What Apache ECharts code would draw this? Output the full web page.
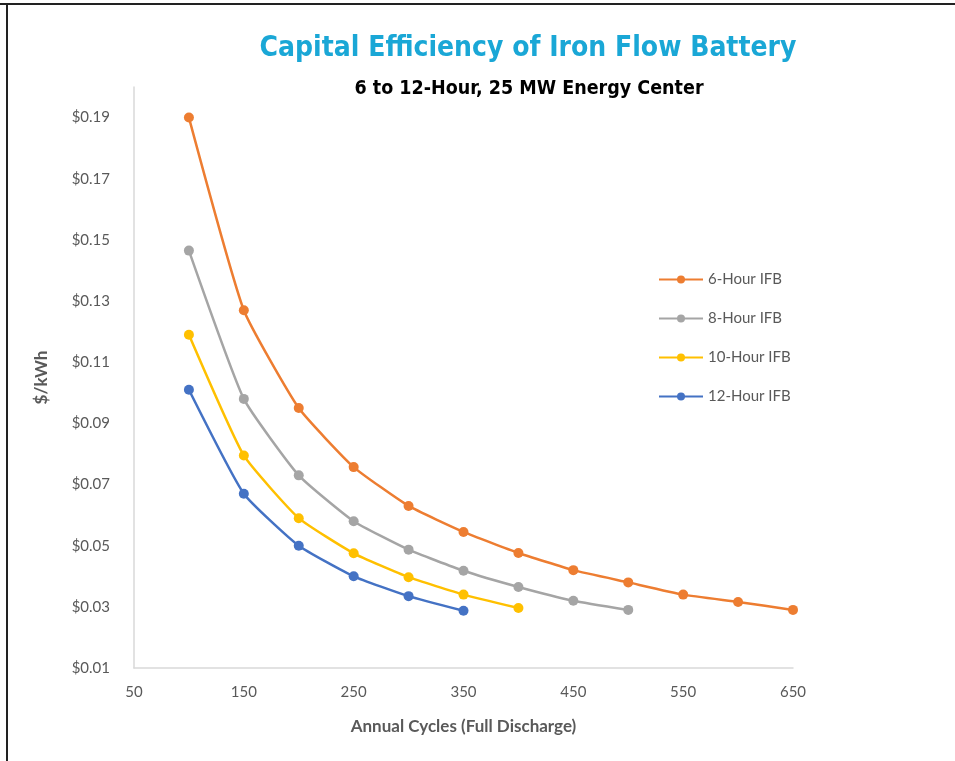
<!DOCTYPE html>
<html>
<head>
<meta charset="UTF-8">
<title>Capital Efficiency of Iron Flow Battery</title>
<script src="https://cdn.jsdelivr.net/npm/echarts@6/dist/echarts.min.js"></script>
<style>
  * { margin: 0; padding: 0; }
  html, body { width: 955px; height: 761px; background: #fff; }
  #chart { width: 955px; height: 761px; }
</style>
</head>
<body>
<div id="chart"></div>
<script>
// annual full-discharge cycles
var cycles = [100, 150, 200, 250, 300, 350, 400, 450, 500, 550, 600, 650];

// $/kWh
var ifb6 = [0.190, 0.127, 0.095, 0.0757, 0.063, 0.0545, 0.0476, 0.042, 0.038, 0.034, 0.0316, 0.029];
var ifb8 = [0.1465, 0.098, 0.073, 0.058, 0.0487, 0.0418, 0.0365, 0.032, 0.029];
var ifb10 = [0.119, 0.0795, 0.059, 0.0475, 0.0397, 0.034, 0.0296];
var ifb12 = [0.101, 0.067, 0.050, 0.040, 0.0335, 0.0287];

var seriesNames = ['6-Hour IFB', '8-Hour IFB', '10-Hour IFB', '12-Hour IFB'];
var seriesValues = [ifb6, ifb8, ifb10, ifb12];
var colors = ['#ED7D31', '#A5A5A5', '#FFC000', '#4472C4'];

function pairs(vals) {
  return vals.map(function (v, i) { return [cycles[i], v]; });
}

var chart = echarts.init(document.getElementById('chart'));

var labelFont = 'Lato, "Open Sans", sans-serif';
var headFont = '"Liberation Sans Narrow", "DejaVu Sans Condensed", sans-serif';

chart.setOption({
  backgroundColor: '#fff',
  animation: false,
  color: colors,
  title: [{
    text: 'Capital Efficiency of Iron Flow Battery',
    left: 523,
    top: 30,
    textAlign: 'center',
    textStyle: { color: '#1AA7D6', fontSize: 28, fontWeight: 'bold', fontFamily: headFont }
  }, {
    text: '6 to 12-Hour, 25 MW Energy Center',
    left: 524,
    top: 74,
    textAlign: 'center',
    textStyle: { color: '#000', fontSize: 19.5, fontWeight: 'bold', fontFamily: headFont }
  }],
  graphic: [{
    type: 'line',
    shape: { x1: 0, y1: 4, x2: 955, y2: 4 },
    style: { stroke: '#222', lineWidth: 2 }
  }, {
    type: 'line',
    shape: { x1: 7, y1: 4, x2: 7, y2: 761 },
    style: { stroke: '#222', lineWidth: 2 }
  }],
  legend: {
    orient: 'vertical',
    left: 653,
    top: 267,
    itemWidth: 44,
    itemHeight: 10,
    itemGap: 24,
    textStyle: { color: '#595959', fontSize: 15, fontFamily: labelFont },
    data: seriesNames
  },
  grid: { left: 134, right: 162, top: 87, bottom: 93 },
  xAxis: {
    type: 'value',
    min: 50,
    max: 650,
    interval: 100,
    name: 'Annual Cycles (Full Discharge)',
    nameLocation: 'middle',
    nameGap: 50,
    nameTextStyle: { color: '#595959', fontSize: 17, fontWeight: 'bold', fontFamily: labelFont },
    axisLine: { lineStyle: { color: '#D9D9D9', width: 1.5 } },
    axisTick: { show: false },
    splitLine: { show: false },
    axisLabel: { color: '#595959', fontSize: 15, margin: 17, fontFamily: labelFont }
  },
  yAxis: {
    type: 'value',
    min: 0.01,
    max: 0.2,
    interval: 0.02,
    name: '$/kWh',
    nameLocation: 'middle',
    nameGap: 84,
    nameTextStyle: { color: '#595959', fontSize: 17, fontWeight: 'bold', fontFamily: labelFont },
    axisLine: { show: true, lineStyle: { color: '#D9D9D9', width: 1.5 } },
    axisTick: { show: false },
    splitLine: { show: false },
    axisLabel: {
      color: '#595959',
      fontSize: 15,
      margin: 24,
      fontFamily: labelFont,
      showMaxLabel: false,
      formatter: function (v) { return '$' + v.toFixed(2); }
    }
  },
  series: seriesNames.map(function (name, i) {
    return {
      name: name,
      type: 'line',
      smooth: 0.15,
      symbol: 'circle',
      symbolSize: 10,
      lineStyle: { width: 2.5 },
      data: pairs(seriesValues[i])
    };
  })
});
</script>
</body>
</html>
